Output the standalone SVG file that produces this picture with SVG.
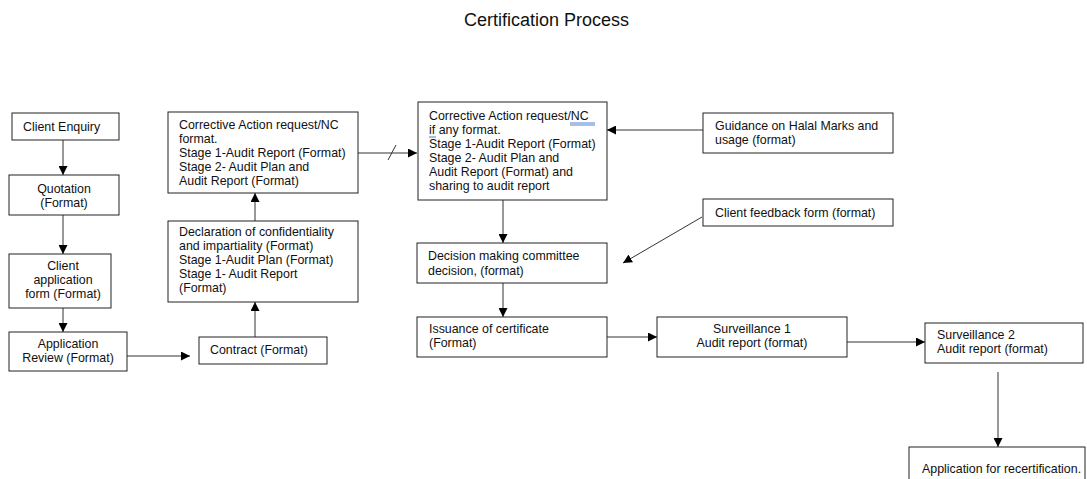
<svg xmlns="http://www.w3.org/2000/svg" width="1087" height="479" viewBox="0 0 1087 479">
<style>
.box{fill:#fff;stroke:#222;stroke-width:1}
.t{font-family:"Liberation Sans",Arial,sans-serif;font-size:12.4px;fill:#111}
.c{text-anchor:middle}
.ln{stroke:#333;stroke-width:1;fill:none}
.title{font-family:"Liberation Sans",Arial,sans-serif;font-size:18px;fill:#111;text-anchor:middle}
.ul{stroke:#4a7fd6;stroke-width:1;fill:none}
</style>
<defs>
<marker id="ah" viewBox="0 0 10 10" refX="10" refY="5" markerWidth="9" markerHeight="9" markerUnits="userSpaceOnUse" orient="auto">
<path d="M0,0 L10,5 L0,10 z" fill="#000"/>
</marker>
</defs>
<rect width="1087" height="479" fill="#fff"/>
<text class="title" x="546.5" y="26">Certification Process</text>

<g id="connectors">
<line class="ln" x1="63" y1="140" x2="63" y2="175" marker-end="url(#ah)"/>
<line class="ln" x1="63" y1="215" x2="63" y2="254" marker-end="url(#ah)"/>
<line class="ln" x1="63" y1="308" x2="63" y2="332" marker-end="url(#ah)"/>
<line class="ln" x1="127" y1="356" x2="190" y2="356" marker-end="url(#ah)"/>
<line class="ln" x1="255" y1="337" x2="255" y2="302" marker-end="url(#ah)"/>
<line class="ln" x1="255" y1="221" x2="255" y2="193" marker-end="url(#ah)"/>
<line class="ln" x1="358" y1="153" x2="417" y2="153" marker-end="url(#ah)"/>
<line class="ln" x1="388" y1="160" x2="396" y2="145"/>
<line class="ln" x1="703" y1="130" x2="607" y2="130" marker-end="url(#ah)"/>
<line class="ln" x1="503" y1="200" x2="503" y2="243" marker-end="url(#ah)"/>
<line class="ln" x1="702" y1="217" x2="623" y2="263" marker-end="url(#ah)"/>
<line class="ln" x1="503" y1="283" x2="503" y2="317" marker-end="url(#ah)"/>
<line class="ln" x1="607" y1="337" x2="657" y2="337" marker-end="url(#ah)"/>
<line class="ln" x1="847" y1="342" x2="925" y2="342" marker-end="url(#ah)"/>
<line class="ln" x1="998" y1="372" x2="998" y2="447" marker-end="url(#ah)"/>
</g>

<g id="client-enquiry">
<rect class="box" x="12" y="113" width="107" height="27"/>
<text class="t" x="23" y="131">Client Enquiry</text>
</g>
<g id="quotation">
<rect class="box" x="9" y="175" width="110" height="40"/>
<text class="t c" x="64" y="193">Quotation</text>
<text class="t c" x="64" y="207">(Format)</text>
</g>
<g id="client-application">
<rect class="box" x="9" y="254" width="102" height="54"/>
<text class="t c" x="63" y="270">Client</text>
<text class="t c" x="63" y="284">application</text>
<text class="t c" x="63" y="298">form (Format)</text>
</g>
<g id="application-review">
<rect class="box" x="9" y="332" width="118" height="39"/>
<text class="t c" x="68" y="348">Application</text>
<text class="t c" x="68" y="362">Review (Format)</text>
</g>
<g id="contract">
<rect class="box" x="199" y="337" width="128" height="27"/>
<text class="t" x="210" y="354">Contract (Format)</text>
</g>
<g id="declaration">
<rect class="box" x="168" y="221" width="190" height="81"/>
<text class="t" x="179" y="236">Declaration of confidentiality</text>
<text class="t" x="179" y="250">and impartiality (Format)</text>
<text class="t" x="179" y="264">Stage 1-Audit Plan (Format)</text>
<text class="t" x="179" y="278">Stage 1- Audit Report</text>
<text class="t" x="179" y="292">(Format)</text>
</g>
<g id="corrective-1">
<rect class="box" x="168" y="112" width="190" height="81"/>
<text class="t" x="179" y="129">Corrective Action request/NC</text>
<text class="t" x="179" y="143">format.</text>
<text class="t" x="179" y="157">Stage 1-Audit Report (Format)</text>
<text class="t" x="179" y="171">Stage 2- Audit Plan and</text>
<text class="t" x="179" y="185">Audit Report (Format)</text>
</g>
<g id="corrective-2">
<rect class="box" x="418" y="102" width="189" height="98"/>
<text class="t" x="429" y="120">Corrective Action request/NC</text>
<path class="ul" d="M570,123 H595 M570,125 H595"/>
<text class="t" x="429" y="134">if any format.</text>
<path class="ul" d="M429,137 H436"/>
<text class="t" x="429" y="148">Stage 1-Audit Report (Format)</text>
<text class="t" x="429" y="162">Stage 2- Audit Plan and</text>
<text class="t" x="429" y="176">Audit Report (Format) and</text>
<text class="t" x="429" y="190">sharing to audit report</text>
</g>
<g id="guidance">
<rect class="box" x="703" y="113" width="190" height="40"/>
<text class="t" x="715" y="130">Guidance on Halal Marks and</text>
<text class="t" x="715" y="144">usage (format)</text>
</g>
<g id="feedback">
<rect class="box" x="703" y="199" width="190" height="27"/>
<text class="t" x="715" y="217">Client feedback form (format)</text>
</g>
<g id="decision">
<rect class="box" x="417" y="243" width="190" height="40"/>
<text class="t" x="428" y="260">Decision making committee</text>
<text class="t" x="428" y="275">decision, (format)</text>
</g>
<g id="issuance">
<rect class="box" x="417" y="317" width="190" height="40"/>
<text class="t" x="429" y="333">Issuance of certificate</text>
<text class="t" x="429" y="347">(Format)</text>
</g>
<g id="surveillance-1">
<rect class="box" x="657" y="317" width="190" height="40"/>
<text class="t c" x="752" y="333">Surveillance 1</text>
<text class="t c" x="752" y="347">Audit report (format)</text>
</g>
<g id="surveillance-2">
<rect class="box" x="925" y="323" width="158" height="40"/>
<text class="t" x="937" y="339">Surveillance 2</text>
<text class="t" x="937" y="353">Audit report (format)</text>
</g>
<g id="recertification">
<rect class="box" x="909" y="447" width="176" height="40"/>
<text class="t" x="922" y="473">Application for recertification.</text>
</g>
</svg>
